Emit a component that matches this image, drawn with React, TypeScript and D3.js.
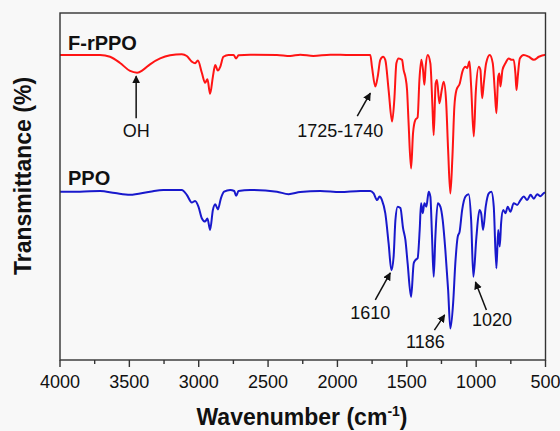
import * as d3 from 'd3';

// F-rPPO spectrum (red), wavenumber in cm-1 and transmittance (offset, a.u.)
const frppoWn = [
  4000, 3711, 3639, 3567, 3495, 3444, 3401, 3351, 3278, 3206, 3122, 3086, 3050, 3026, 3006, 2977,
  2954, 2937, 2918, 2898, 2881, 2862, 2845, 2822, 2785, 2749, 2730, 2713, 2629, 2436, 2340, 2268,
  2174, 2052, 1907, 1777, 1763, 1751, 1727, 1710, 1691, 1671, 1655, 1631, 1606, 1590, 1575, 1559,
  1534, 1523, 1510, 1498, 1487, 1469, 1455, 1438, 1422, 1409, 1395, 1383, 1373, 1364, 1349, 1330,
  1315, 1306, 1292, 1282, 1265, 1248, 1234, 1217, 1202, 1186, 1171, 1157, 1142, 1118, 1099, 1077,
  1065, 1048, 1036, 1017, 1003, 981, 969, 957, 945, 928, 902, 880, 866, 854, 841, 832,
  825, 810, 789, 765, 745, 729, 717, 709, 700, 685, 657, 621, 584, 548, 507, 500,
];
const frppoT = [
  87.9, 87.9, 87.4, 85.6, 83.3, 82.8, 83.6, 85.2, 86.9, 87.8, 88.1, 87.6, 86.0, 85.5, 86.3, 82.7,
  79.9, 80.9, 76.7, 81.6, 85.0, 83.4, 84.5, 87.4, 87.9, 87.9, 86.9, 87.8, 88.0, 87.9, 87.6, 88.0,
  87.6, 88.0, 87.9, 87.9, 87.9, 84.5, 78.8, 81.6, 86.5, 87.4, 86.5, 77.8, 68.7, 74.9, 85.5, 86.9,
  86.5, 83.6, 81.6, 77.8, 68.3, 55.2, 65.4, 69.2, 69.9, 80.7, 86.5, 83.6, 79.3, 84.5, 87.9, 85.5,
  73.0, 64.8, 79.7, 80.7, 74.0, 77.8, 80.2, 74.9, 60.5, 48.0, 58.6, 73.0, 77.8, 79.7, 83.1, 84.5,
  84.1, 86.0, 78.8, 64.4, 76.9, 84.5, 83.6, 75.4, 79.7, 85.5, 87.9, 85.5, 77.8, 71.1, 81.6, 82.6,
  78.8, 83.6, 85.5, 86.9, 86.5, 86.5, 82.6, 77.8, 81.6, 86.9, 87.9, 87.4, 86.5, 87.4, 87.9, 87.9,
];

// PPO spectrum (blue)
const ppoWn = [
  4000, 3856, 3711, 3603, 3495, 3351, 3255, 3122, 3086, 3050, 3026, 3002, 2977, 2954, 2937, 2918,
  2898, 2881, 2862, 2840, 2817, 2773, 2744, 2730, 2713, 2629, 2436, 2352, 2268, 2124, 1979, 1835,
  1763, 1739, 1714, 1696, 1679, 1655, 1631, 1611, 1595, 1582, 1566, 1546, 1527, 1510, 1494, 1469,
  1450, 1438, 1422, 1407, 1397, 1385, 1373, 1359, 1342, 1330, 1318, 1306, 1294, 1277, 1258, 1241,
  1222, 1202, 1186, 1166, 1150, 1133, 1119, 1101, 1077, 1054, 1036, 1020, 998, 976, 964, 950,
  931, 909, 890, 873, 854, 841, 830, 820, 805, 789, 772, 753, 729, 704, 680, 657,
  632, 608, 584, 560, 536, 507, 500,
];
const ppoT = [
  48.5, 48.5, 48.7, 48.1, 47.6, 48.5, 49.0, 49.0, 47.6, 45.4, 45.8, 44.2, 40.8, 39.9, 40.8, 37.5,
  43.2, 44.9, 43.4, 46.6, 48.5, 49.0, 48.7, 47.3, 48.7, 49.0, 48.5, 47.8, 48.4, 48.7, 48.4, 48.7,
  48.7, 48.0, 46.1, 47.1, 46.1, 42.3, 33.6, 25.9, 29.8, 40.3, 44.2, 43.8, 38.0, 34.6, 27.9, 18.2,
  27.9, 28.8, 29.3, 37.5, 45.2, 42.3, 45.2, 44.2, 48.5, 47.1, 35.5, 24.0, 35.5, 45.2, 44.2, 40.3,
  31.7, 20.2, 9.1, 16.3, 27.9, 35.5, 37.0, 43.2, 47.1, 47.8, 40.3, 24.0, 35.5, 43.2, 42.3, 37.5,
  44.2, 48.0, 48.5, 44.2, 26.4, 37.5, 32.7, 39.4, 43.2, 42.3, 44.2, 42.7, 45.2, 44.7, 46.1, 47.1,
  46.1, 47.6, 46.5, 47.8, 47.2, 48.2, 48.2,
];

const xTicks = [4000, 3500, 3000, 2500, 2000, 1500, 1000, 500];
const xMinorTicks = [3750, 3250, 2750, 2250, 1750, 1250, 750];

// peak annotations: label, label position, arrow tail and tip (wavenumber, transmittance)
const noteLabels = ['OH', '1725-1740', '1610', '1186', '1020'];
const noteTextWn = [3451, 1979, 1763, 1366, 885];
const noteTextT = [64.3, 64.3, 11.8, 3.5, 9.8];
const noteTailWn = [3451, 1857, 1727, 1301, 926];
const noteTailT = [69.7, 70.3, 17.3, 8.6, 14.4];
const noteTipWn = [3451, 1763, 1619, 1227, 1005];
const noteTipT = [81.8, 76.9, 25.1, 13.0, 22.5];

const seriesNames = ['F-rPPO', 'PPO'];
const seriesLabelWn = [3942, 3942];
const seriesLabelT = [89.3, 50.4];

const W = 560;
const H = 431;
const left = 60;
const right = 545.5;
const top = 13;
const bottom = 360;
const font = "Arial, 'Liberation Sans', sans-serif";

export default function App() {
  const x = d3.scaleLinear().domain([4000, 500]).range([left, right]);
  const y = d3.scaleLinear().domain([0, 100]).range([bottom, top]);

  const line = d3
    .line<[number, number]>()
    .x((d) => x(d[0]))
    .y((d) => y(d[1]))
    .curve(d3.curveMonotoneX);

  const red = frppoWn.map((w, i) => [w, frppoT[i]] as [number, number]);
  const blue = ppoWn.map((w, i) => [w, ppoT[i]] as [number, number]);

  return (
    <svg
      width={W}
      height={H}
      style={{ position: 'absolute', left: 0, top: 0, display: 'block' }}
      fontFamily={font}
    >
      <defs>
        <marker id="arrow" viewBox="0 0 10 10" refX="9" refY="5" markerWidth="8" markerHeight="8"
          markerUnits="userSpaceOnUse" orient="auto">
          <path d="M0,0 L10,5 L0,10 Z" fill="#111" />
        </marker>
      </defs>
      <rect x={0} y={0} width={W} height={H} fill="#f8f8f8" />

      <path d={line(red) || ''} fill="none" stroke="#ff1414" strokeWidth={2} strokeLinejoin="round" />
      <path d={line(blue) || ''} fill="none" stroke="#1818cc" strokeWidth={2} strokeLinejoin="round" />

      <rect x={left} y={top} width={right - left} height={bottom - top} fill="none" stroke="#333" strokeWidth={1.4} />

      {xTicks.map((t) => (
        <g key={t}>
          <line x1={x(t)} x2={x(t)} y1={bottom} y2={bottom + 7} stroke="#333" strokeWidth={1.4} />
          <text x={x(t)} y={388} textAnchor="middle" fontSize={18} fill="#111">{t}</text>
        </g>
      ))}
      {xMinorTicks.map((t) => (
        <line key={t} x1={x(t)} x2={x(t)} y1={bottom} y2={bottom + 4} stroke="#333" strokeWidth={1.4} />
      ))}

      {seriesNames.map((s, i) => (
        <text key={s} x={x(seriesLabelWn[i])} y={y(seriesLabelT[i])} fontSize={20} fontWeight="bold" fill="#111">
          {s}
        </text>
      ))}

      {noteLabels.map((s, i) => (
        <g key={s}>
          <line
            x1={x(noteTailWn[i])}
            y1={y(noteTailT[i])}
            x2={x(noteTipWn[i])}
            y2={y(noteTipT[i])}
            stroke="#111"
            strokeWidth={1.5}
            markerEnd="url(#arrow)"
          />
          <text x={x(noteTextWn[i])} y={y(noteTextT[i])} textAnchor="middle" fontSize={18} fill="#111">
            {s}
          </text>
        </g>
      ))}

      <text x={302} y={425} textAnchor="middle" fontSize={23} fontWeight="bold" fill="#111">
        Wavenumber (cm<tspan dy={-9} fontSize={14}>-1</tspan><tspan dy={9}>)</tspan>
      </text>
      <text transform="translate(31,176) rotate(-90)" textAnchor="middle" fontSize={23} fontWeight="bold" fill="#111">
        Transmittance (%)
      </text>
    </svg>
  );
}
